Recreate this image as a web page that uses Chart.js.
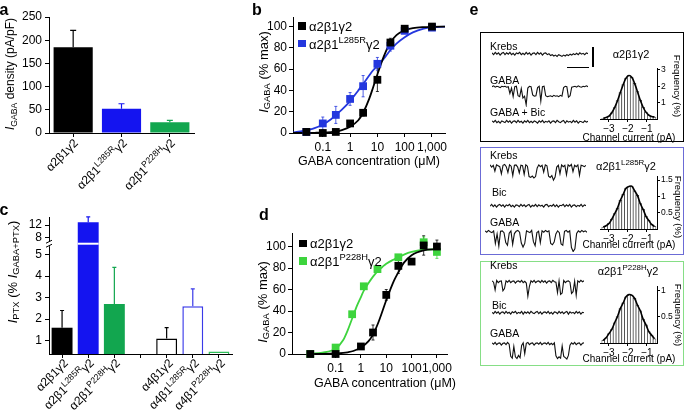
<!DOCTYPE html>
<html>
<head>
<meta charset="utf-8">
<script src="https://cdn.jsdelivr.net/npm/chart.js@4.4.1/dist/chart.umd.min.js"></script>
<style>
  body { margin: 0; background: #fff; }
  #fig { position: relative; width: 685px; height: 413px; overflow: hidden; font-family: 'Liberation Sans', Arial, sans-serif; color: #000; }
  #fig canvas { position: absolute; }
  .t { position: absolute; white-space: nowrap; line-height: 1; }
  .t sub, .t sup { font-size: 0.72em; line-height: 0; }
  .t sub { vertical-align: -0.3em; }
  .t sup { vertical-align: 0.55em; }
  .letter { font-weight: bold; }
  .box { position: absolute; box-sizing: border-box; }
  .bar { position: absolute; background: #000; }
</style>
</head>
<body>
<div id="fig"></div>
<script>
// ---- panel a: current density ----
const aLabels = ['α2β1γ2', 'α2β1^L285R^γ2', 'α2β1^P228H^γ2'];
const aDensity = [185, 52, 23];
const aSem = [36, 11, 4];
const aTicks = [0, 50, 100, 150, 200, 250];

// ---- panel c: PTX-sensitive current (broken axis) ----
const cLabels = ['α2β1γ2', 'α2β1^L285R^γ2', 'α2β1^P228H^γ2', '', 'α4β1γ2', 'α4β1^L285R^γ2', 'α4β1^P228H^γ2'];
const cPtx = [1.6, 12.9, 2.7, null, 1.1, 2.6, 0.5];
const cSem = [0.8, 1.7, 1.7, null, 0.5, 0.8, null];
const cTicks = [1, 2, 3, 4, 5, 8, 12];

// ---- panel b: concentration-response, L285R ----
const bConc = [0.025, 0.1, 0.3, 1, 3, 10, 30, 100, 1000];
const bWild = [1, 0, 1, 9, 19, 50, 85, 98, 100];
const bWildSem = [0, 0, 1, 2, 3, 11, 4, 2, 1];
const bL285R = [1, 9, 17, 32, 44, 65, 82, 96, 99];
const bL285RSem = [1, 6, 8, 6, 10, 6, 5, 2, 1];
const bFitConc = [0.008, 0.015, 0.03, 0.05, 0.1, 0.2, 0.3, 0.5, 1, 2, 3, 5, 7, 10, 15, 20, 30, 50, 100, 200, 500, 1000, 3000];
const bFitWild = [0, 0, 0.1, 0.2, 0.4, 0.9, 1.5, 2.8, 6, 12, 19, 32, 43, 55, 68, 76, 85, 92, 96.5, 98.5, 99.5, 99.8, 100];
const bFitL285R = [0.5, 1.5, 3, 4.5, 8, 13, 17, 22, 30, 40, 46, 54, 59, 63, 68, 72, 78, 84, 90, 94.5, 98, 99.2, 100];

// ---- panel d: concentration-response, P228H ----
const dConc = [0.01, 0.1, 1, 3, 10, 30, 100, 300, 1000];
const dWild = [0, 0, 7, 20, 55, 82, 86, 101, 100];
const dWildSem = [0, 0, 1, 7, 5, 7, 0, 9, 6];
const dP228HConc = [0.01, 0.1, 0.45, 1.3, 4.5, 30, 300, 1000];
const dP228H = [0, 6, 37, 63, 79, 90, 104, 95];
const dP228HSem = [0, 1, 1, 1, 2, 2, 5, 6];
const dFitWildConc = [0.01, 0.03, 0.1, 0.2, 0.3, 0.5, 1, 2, 3, 5, 10, 20, 30, 50, 100, 300, 1000];
const dFitWild = [0, 0.1, 0.5, 1, 1.6, 2.8, 6, 12, 18, 30, 50, 68, 76, 85, 92, 96.5, 97.5];
const dFitP228HConc = [0.01, 0.03, 0.1, 0.2, 0.3, 0.45, 0.7, 1, 1.3, 2, 3, 4.5, 7, 10, 20, 30, 50, 100, 300, 1000];
const dFitP228H = [0.3, 1.2, 5, 13, 22, 33, 45, 53, 59, 66, 72, 77, 81, 84, 88, 90, 92.5, 95, 97, 97.5];

const logTicks = [0.1, 1, 10, 100, 1000];
const pctTicks = [0, 20, 40, 60, 80, 100];

// ---- panel e: single-channel amplitude histograms (Frequency %) ----
const eHistX = [-3.3, -3.15, -3.0, -2.85, -2.7, -2.55, -2.4, -2.25, -2.1, -1.95, -1.8, -1.65, -1.5, -1.35, -1.2, -1.05, -0.9, -0.75, -0.6];
const eHistWild = [0.04, 0.09, 0.18, 0.38, 0.7, 1.12, 1.62, 2.1, 2.5, 2.66, 2.55, 2.18, 1.68, 1.15, 0.72, 0.42, 0.24, 0.15, 0.12];
const eHistL285R = [0.06, 0.1, 0.17, 0.3, 0.47, 0.64, 0.88, 1.06, 1.25, 1.3, 1.31, 1.17, 1.03, 0.78, 0.6, 0.39, 0.26, 0.14, 0.08];
const eHistP228H = [0.05, 0.1, 0.18, 0.26, 0.39, 0.51, 0.66, 0.77, 0.89, 0.93, 0.92, 0.86, 0.73, 0.62, 0.46, 0.35, 0.22, 0.15, 0.08];
const eCurrTicks = [-3, -2, -1];

// single-channel traces (pA, 0 = closed)
const e1Krebs = [0.2,-0.2,0.3,-0.1,0.2,-0.3,0.1,0.3,-0.2,0.2,-0.1,0.3,-0.2,0.1,-0.3,0.2,0,0.3,-0.2,0.1,-0.2,0.3,-0.1,0.2,-0.3,0.1,0.2,-0.2,0.3,-0.1,0.2,-0.3,0.1,0.2,-0.2,0,-0.4,-0.2,-0.5,-0.3,-0.6,-0.2,-0.4,-0.6,-0.3,-0.5,-0.2,-0.4,-0.1,-0.3,0,-0.2,0.1,-0.2,0.2,-0.1,0.1,-0.2,0.2,0];
const e1Gaba = [0,0.2,-0.1,0.1,0,-0.2,0.1,0,0.1,-0.1,0,-1.5,-0.3,-2.2,0,0.1,-2,-2.2,-0.4,-2.5,-2.1,-4,-0.3,0.1,0,-1.8,-2.1,-2,-0.2,0.1,-3.2,0,0.1,-2,-2.2,-2.1,-2,-2.2,-1.9,-2.1,-2,-2.2,-1.9,-2.1,-0.2,0.1,0,-2.3,-2,-0.1,0,0.1,-0.1,0.2,0,-0.1,0.1,0,0.2,0];
const e1GabaBic = [0.2,-0.1,0.3,-0.2,0.1,-0.3,0.2,0,-0.2,0.3,-0.1,0.2,-0.3,0.1,0.2,-0.2,0.3,-0.1,0.1,-0.3,0.2,-0.1,0.3,-0.2,0.1,-0.2,0.2,0,-0.3,0.2,-0.1,0.3,-0.2,0.1,-0.1,0.2,-0.3,0.1,0.2,-0.2,0.3,0,-0.2,0.1,0.3,-0.3,0.2,-0.1,0.1,-0.2,0.3,-0.1,0.2,-0.3,0.1,0,-0.2,0.2,-0.1,0.1];
const e2Krebs = [0.2,-0.3,0.1,-1.2,0.2,0,-0.2,-1.8,0.1,0.3,-0.2,-1.5,0.2,-0.1,-2.2,0.1,0.2,-0.3,-1.6,0.1,0,-1.9,0.2,-0.1,-2.4,-2.6,-2.3,-2.7,-2.4,-0.5,0.2,-0.2,0.1,-1.4,0.2,0,-2.3,-2.6,-2.2,-3.2,-2.5,-0.3,0.1,-1.8,0.2,-0.2,0.1,-2.0,0.2,-0.1,0.3,-1.3,0.1,-0.2,0.2,-2.1,0.1,0,-0.2,0.1];
const e2Bic = [-0.1,0.3,-0.2,0.2,-0.3,0.1,0.3,-0.1,0.2,-0.3,0.2,0,0.3,-0.2,0.1,-0.3,0.2,0.1,-0.2,0.3,-0.1,0.2,-0.2,0.1,0.3,-0.3,0.1,-0.1,0.3,-0.2,0.2,-0.1,0.1,-0.3,0.2,0.3,-0.2,0.1,-0.1,0.3,-0.2,0.2,-0.3,0.1,0,0.3,-0.2,0.2,-0.1,0.3,-0.3,0.1,0.2,-0.2,0.1,-0.1,0.3,-0.2,0.2,0];
const e2Gaba = [0.2,-0.1,0.3,0,-0.2,0.2,-2.6,-0.5,-3.2,0.1,0.2,-0.2,-2.4,-3.0,-0.3,0.2,-2.8,-0.4,0.1,0.3,-0.1,-2.5,-3.4,-2.6,0.2,0,-0.2,0.3,-2.2,-3.1,-0.2,0.1,-2.4,0.2,-0.1,0.3,0,0.2,-2.6,-2.9,-2.3,-0.5,0.2,-0.2,-2.7,-3.0,0.1,0.3,-0.1,0.2,-3.5,-4.4,-3.8,-0.4,0.2,-0.1,0.3,0,0.2,-0.1];
const e3Krebs = [0.2,-0.1,-1.8,0.3,-0.2,0.1,0.2,-2.0,-1.5,0.2,-0.1,0.3,-0.2,0.1,0.2,-0.3,0.1,0.2,-0.1,0.3,-0.2,0.1,-0.3,-3.2,-1.0,0.2,-0.1,0.3,-0.2,0.1,0.2,-0.2,0.3,-0.1,0.2,-0.3,0.1,0.2,-0.2,0.3,0,-0.1,-2.4,0.2,-2.8,-2.5,0.3,-0.2,0.1,0.2,-0.1,-2.6,-2.2,0.1,-3.0,0.2,-0.1,0.3,0,0.2];
const e3Bic = [0.1,-0.2,0.3,-0.1,0.2,-0.3,0.1,0.2,-0.2,0.3,-0.1,0.1,-0.3,0.2,0,0.3,-0.2,0.1,-0.1,0.3,-0.3,0.2,-0.1,0.2,-0.2,0.3,0,-0.2,0.1,0.3,-0.2,0.2,-0.3,0.1,0.2,-0.1,0.3,-0.2,0.1,-0.3,0.2,0.1,-0.2,0.3,-0.1,0.2,-0.2,0.1,0.3,-0.3,0.2,-0.1,0.1,-0.2,0.3,-0.1,0.2,-0.3,0.1,0];
const e3Gaba = [0.2,-0.1,0.3,-0.2,0.1,0.2,-0.3,0.1,0.2,-0.2,0.3,-0.1,-2.8,-3.2,-0.6,-2.9,-3.3,-2.6,-3.1,-0.4,0.2,-2.2,0.1,0.3,-0.2,0.1,0.2,-0.3,0.1,0.2,-0.1,0.3,-0.2,0.1,0.2,-0.1,0.3,-0.2,0.1,-0.2,0.2,-2.7,-3.3,-2.9,-3.2,-0.5,-2.8,-3.1,-3.4,-2.6,-0.3,0.2,-0.1,0.3,-0.2,0.1,0.2,-0.3,0.1,0.2];

const BLACK = '#000';
const BLUE = '#1414f0';
const GREEN = '#12a64f';
const BLUE_B = '#2437de';
const GREEN_D = '#3dd43d';
const aColors = [BLACK, BLUE, GREEN];
const cFill = [BLACK, BLUE, GREEN, null, '#fff', '#fff', '#fff'];
const cEdge = [BLACK, BLUE, GREEN, null, BLACK, '#3a3ae8', '#2fbf5a'];

Chart.defaults.font.family = "'Liberation Sans', Arial, sans-serif";
Chart.defaults.font.size = 12;
Chart.defaults.color = '#000';
Chart.defaults.animation = false;
Chart.defaults.responsive = false;
Chart.defaults.devicePixelRatio = 1;
Chart.defaults.events = [];
Chart.defaults.plugins.legend.display = false;
Chart.defaults.plugins.tooltip.enabled = false;

const fig = document.getElementById('fig');

function canvas(x, y, w, h) {
  const c = document.createElement('canvas');
  c.width = w; c.height = h;
  c.style.left = x + 'px'; c.style.top = y + 'px';
  c.style.width = w + 'px'; c.style.height = h + 'px';
  fig.appendChild(c);
  return c;
}

function rich(s) { return s.replace(/\^(.*?)\^/g, '<sup>$1</sup>'); }

// anchor: 'c' centre, 'l' left-middle, 'r' right-middle
function text(html, x, y, opt) {
  opt = opt || {};
  const d = document.createElement('div');
  d.className = 't' + (opt.cls ? ' ' + opt.cls : '');
  d.innerHTML = html;
  d.style.left = x + 'px';
  d.style.top = y + 'px';
  d.style.fontSize = (opt.size || 12) + 'px';
  const a = opt.anchor || 'c';
  const tx = a === 'l' ? '0' : a === 'r' ? '-100%' : '-50%';
  d.style.transformOrigin = (a === 'l' ? '0' : a === 'r' ? '100%' : '50%') + ' 50%';
  d.style.transform = 'translate(' + tx + ',-50%) rotate(' + (opt.rot || 0) + 'deg)';
  fig.appendChild(d);
  return d;
}

function block(cls, x, y, w, h, css) {
  const d = document.createElement('div');
  d.className = cls;
  d.style.left = x + 'px'; d.style.top = y + 'px';
  d.style.width = w + 'px'; d.style.height = h + 'px';
  Object.assign(d.style, css || {});
  fig.appendChild(d);
  return d;
}

function axis(opts) {
  const o = {
    border: { display: true, color: '#000', width: 1 },
    grid: { display: true, drawOnChartArea: false, drawTicks: true, tickLength: 4, color: '#000', offset: false },
    ticks: { color: '#000', padding: 3, autoSkip: false, maxRotation: 0, minRotation: 0, font: { size: 12 } }
  };
  for (const k in opts) {
    if (k === 'ticks' || k === 'grid') Object.assign(o[k], opts[k]);
    else o[k] = opts[k];
  }
  return o;
}
const setTicks = list => s => { s.ticks = list.map(v => ({ value: v })); };
const setW = n => s => { s.width = n; };
const setH = n => s => { s.height = n; };

// error bars: 'up' after bars, 'both' behind points
function drawErr(chart, mode) {
  const ctx = chart.ctx, ys = chart.scales.y;
  chart.data.datasets.forEach((ds, i) => {
    if (!ds.errTop || ds.errMode !== mode) return;
    const meta = chart.getDatasetMeta(i);
    ctx.save();
    ctx.lineWidth = ds.errWidth || 1.2;
    meta.data.forEach((el, j) => {
      const top = ds.errTop[j];
      if (top == null || isNaN(top)) return;
      const col = Array.isArray(ds.errColor) ? ds.errColor[j] : ds.errColor;
      const yt = ys.getPixelForValue(top);
      const yb = mode === 'up' ? el.y : ys.getPixelForValue(ds.errBot[j]);
      const cap = ds.errCap || 2;
      ctx.strokeStyle = col;
      ctx.beginPath();
      ctx.moveTo(el.x, yb); ctx.lineTo(el.x, yt);
      ctx.moveTo(el.x - cap, yt); ctx.lineTo(el.x + cap, yt);
      if (mode === 'both') { ctx.moveTo(el.x - cap, yb); ctx.lineTo(el.x + cap, yb); }
      ctx.stroke();
    });
    ctx.restore();
  });
}
const errBars = {
  id: 'errBars',
  beforeDatasetsDraw(chart) { drawErr(chart, 'both'); },
  afterDatasetsDraw(chart) { drawErr(chart, 'up'); }
};

// ---------- panel a ----------
const aChart = new Chart(canvas(0, 0, 230, 200), {
  type: 'bar',
  data: {
    labels: aLabels,
    datasets: [{
      data: aDensity, backgroundColor: aColors, barPercentage: 0.81, categoryPercentage: 1,
      errTop: aDensity.map((v, i) => v + aSem[i]), errColor: aColors, errMode: 'up', errCap: 3
    }]
  },
  options: {
    layout: { padding: { top: 17, right: 36 } },
    scales: {
      x: axis({ ticks: { callback: () => '' }, afterFit: setH(67) }),
      y: axis({ min: 0, max: 250, afterBuildTicks: setTicks(aTicks), afterFit: setW(49) })
    }
  },
  plugins: [errBars]
});
aLabels.forEach((l, i) => text(rich(l), aChart.scales.x.getPixelForValue(i) + 3, aChart.chartArea.bottom + 8, { anchor: 'r', rot: -45, size: 12 }));
text('<i>I</i><sub>GABA</sub> density (pA/pF)', 10, 74, { rot: -90, size: 12 });

// ---------- panel c (broken y axis) ----------
function cAxis(v) { return v < 6 ? v : 5.77 + (v - 8) * 0.1475; }
const cBreakAt = 5.5;
const cBreak = {
  id: 'cBreak',
  afterDraw(chart) {
    const ctx = chart.ctx, y = chart.scales.y.getPixelForValue(cBreakAt), left = chart.chartArea.left;
    const meta = chart.getDatasetMeta(0);
    ctx.save();
    ctx.strokeStyle = '#fff'; ctx.lineWidth = 2;
    cPtx.forEach((v, i) => {
      if (v == null || v < 6) return;
      const el = meta.data[i];
      ctx.beginPath(); ctx.moveTo(el.x - el.width / 2, y); ctx.lineTo(el.x + el.width / 2, y); ctx.stroke();
    });
    ctx.fillStyle = '#fff'; ctx.fillRect(left - 2, y - 2.5, 4, 5);
    ctx.strokeStyle = '#000'; ctx.lineWidth = 1;
    ctx.beginPath();
    ctx.moveTo(left - 3, y - 0.5); ctx.lineTo(left + 3, y - 3.5);
    ctx.moveTo(left - 3, y + 3.5); ctx.lineTo(left + 3, y + 0.5);
    ctx.stroke();
    ctx.restore();
  }
};
const cChart = new Chart(canvas(0, 200, 240, 213), {
  type: 'bar',
  data: {
    labels: cLabels,
    datasets: [{
      data: cPtx.map(v => v == null ? null : cAxis(v)),
      backgroundColor: cFill, borderColor: cEdge,
      borderWidth: cFill.map(f => f === '#fff' ? 1.5 : 0),
      barPercentage: 0.8, categoryPercentage: 1,
      errTop: cPtx.map((v, i) => (v == null || cSem[i] == null) ? null : cAxis(v + cSem[i])),
      errColor: cEdge, errMode: 'up', errCap: 2
    }]
  },
  options: {
    layout: { padding: { top: 17, right: 8 } },
    scales: {
      x: axis({ ticks: { callback: () => '' }, afterFit: setH(59) }),
      y: axis({
        min: 0.38, max: 6.74,
        afterBuildTicks: s => { s.ticks = cTicks.map(v => ({ value: cAxis(v) })); },
        ticks: { callback: (v, i) => cTicks[i] },
        afterFit: setW(49)
      })
    }
  },
  plugins: [errBars, cBreak]
});
cLabels.forEach((l, i) => {
  if (!l) return;
  text(rich(l), cChart.scales.x.getPixelForValue(i) + 4, 200 + cChart.chartArea.bottom + 7, { anchor: 'r', rot: -45, size: 12 });
});
text('<i>I</i><sub>PTX</sub> (% <i>I</i><sub>GABA+PTX</sub>)', 12, 272, { rot: -90, size: 13 });

// ---------- panels b and d ----------
function pts(xs, ys, sem, col) {
  return {
    data: xs.map((x, i) => ({ x, y: ys[i] })),
    pointStyle: 'rect', pointRadius: 5.5, backgroundColor: col, borderColor: col, borderWidth: 0, clip: false,
    errTop: ys.map((v, i) => v + sem[i]), errBot: ys.map((v, i) => v - sem[i]),
    errColor: col, errMode: 'both', errWidth: 0.8, errCap: 1.5
  };
}
function fit(xs, ys, col) {
  return {
    data: xs.map((x, i) => ({ x, y: ys[i] })),
    showLine: true, pointRadius: 0, borderColor: col, borderWidth: 1.8,
    cubicInterpolationMode: 'monotone', fill: false
  };
}
function doseChart(x, y, h, pad, yW, xMin, xMax, yMax, xH, datasets) {
  return new Chart(canvas(x, y, 230, h), {
    type: 'scatter',
    data: { datasets },
    options: {
      layout: { padding: pad },
      scales: {
        x: axis({
          type: 'logarithmic', min: xMin, max: xMax,
          afterBuildTicks: setTicks(logTicks),
          ticks: { callback: v => Number(v).toLocaleString('en-US') },
          afterFit: setH(xH)
        }),
        y: axis({ min: 0, max: yMax, afterBuildTicks: setTicks(pctTicks), ticks: { padding: 2 }, afterFit: setW(yW) })
      }
    },
    plugins: [errBars]
  });
}
doseChart(230, 0, 200, { top: 17, right: 15 }, 63, 0.0081, 3000, 109, 67, [
  pts(bConc, bWild, bWildSem, BLACK),
  pts(bConc, bL285R, bL285RSem, BLUE_B),
  fit(bFitConc, bFitWild, BLACK),
  fit(bFitConc, bFitL285R, BLUE_B)
]);
doseChart(230, 200, 213, { top: 33, right: 13 }, 62, 0.0019, 2500, 112.6, 59, [
  pts(dConc, dWild, dWildSem, BLACK),
  pts(dP228HConc, dP228H, dP228HSem, GREEN_D),
  fit(dFitWildConc, dFitWild, BLACK),
  fit(dFitP228HConc, dFitP228H, GREEN_D)
]);
text('<i>I</i><sub>GABA</sub> (% max)', 263, 72, { rot: -90, size: 13 });
text('GABA concentration (μM)', 369, 161, { size: 12.5 });
text('<i>I</i><sub>GABA</sub> (% max)', 262, 302, { rot: -90, size: 13 });
text('GABA concentration (μM)', 385, 383, { size: 12.5 });
// legends
block('bar', 298, 22, 7.5, 7.5, { background: BLACK });
text('α2β1γ2', 309, 26, { anchor: 'l', size: 13 });
block('bar', 298, 39.5, 7.5, 7.5, { background: BLUE_B });
text(rich('α2β1^L285R^γ2'), 309, 44, { anchor: 'l', size: 13 });
block('bar', 299, 239.5, 7.5, 7.5, { background: BLACK });
text('α2β1γ2', 310, 243, { anchor: 'l', size: 13 });
block('bar', 299, 257, 7.5, 7.5, { background: GREEN_D });
text(rich('α2β1^P228H^γ2'), 310, 261, { anchor: 'l', size: 13 });

// ---------- panel e ----------
block('box', 480, 32, 204, 110, { border: '1px solid #000' });
block('box', 480, 147, 204, 108, { border: '1.5px solid #6b6bd6' });
block('box', 480, 261, 204, 105, { border: '1.5px solid #86de86' });

function trace(x, baseY, w, vals) {
  new Chart(canvas(x, Math.round(baseY - 7), w, 27), {
    type: 'line',
    data: { datasets: [{ data: vals.map((v, i) => ({ x: i, y: v })), borderColor: '#111', borderWidth: 1.1, pointRadius: 0, tension: 0 }] },
    options: {
      layout: { padding: 0 },
      scales: {
        x: { type: 'linear', display: false, min: 0, max: vals.length - 1 },
        y: { display: false, min: -4.5, max: 1.5 }
      }
    }
  });
}
function hist(y, h, top, yMax, yTicks, vals) {
  const pairs = eHistX.map((v, i) => ({ x: v, y: vals[i] }));
  return new Chart(canvas(590, y, 92, h), {
    type: 'bar',
    data: {
      datasets: [
        { type: 'line', data: pairs, borderColor: '#000', borderWidth: 1.6, pointRadius: 0, tension: 0.4, order: 0 },
        { data: pairs, backgroundColor: '#fff', borderColor: '#333', borderWidth: 0.7, barPercentage: 1, categoryPercentage: 1, order: 1 }
      ]
    },
    options: {
      layout: { padding: { left: 10, top } },
      scales: {
        x: axis({
          type: 'linear', offset: false, min: -3.47, max: -0.47,
          afterBuildTicks: setTicks(eCurrTicks),
          ticks: { font: { size: 10 }, padding: 1, callback: v => (v < 0 ? '\u2212' : '') + Math.abs(v) },
          grid: { tickLength: 3 }, afterFit: setH(23)
        }),
        y: axis({
          position: 'right', min: 0, max: yMax,
          afterBuildTicks: setTicks(yTicks),
          ticks: { font: { size: 8.5 }, padding: 1, callback: v => String(v) },
          grid: { tickLength: 3 }, afterFit: setW(25)
        })
      }
    }
  });
}

// box 1
text('Krebs', 490, 46, { anchor: 'l', size: 10.5 });
trace(492, 54, 96, e1Krebs);
text('GABA', 490, 80, { anchor: 'l', size: 10.5 });
trace(492, 87, 96, e1Gaba);
text('GABA + Bic', 490, 112, { anchor: 'l', size: 10.5 });
trace(492, 122, 96, e1GabaBic);
block('bar', 592, 47, 1.5, 20);
block('bar', 567, 66.5, 22, 1.5);
text('α2β1γ2', 631, 54, { size: 11 });
hist(60, 82, 8, 3.12, [1, 2, 3], eHistWild);
text('Frequency (%)', 677, 86, { rot: 90, size: 9.5 });
text('Channel current (pA)', 629, 137.5, { size: 10 });

// box 2
text('Krebs', 490, 155, { anchor: 'l', size: 10.5 });
trace(490, 166, 96, e2Krebs);
text('Bic', 492, 192, { anchor: 'l', size: 10.5 });
trace(490, 206, 96, e2Bic);
text('GABA', 490, 222, { anchor: 'l', size: 10.5 });
trace(485, 232, 102, e2Gaba);
text(rich('α2β1^L285R^γ2'), 626, 166, { size: 11 });
hist(170, 82, 6, 1.62, [0.5, 1, 1.5], eHistL285R);
text('Frequency (%)', 678, 207, { rot: 90, size: 9.5 });
text('Channel current (pA)', 629, 245, { size: 10 });

// box 3
text('Krebs', 490, 265, { anchor: 'l', size: 10.5 });
trace(492, 282, 92, e3Krebs);
text('Bic', 492, 305, { anchor: 'l', size: 10.5 });
trace(492, 313, 92, e3Bic);
text('GABA', 490, 333, { anchor: 'l', size: 10.5 });
trace(492, 344, 92, e3Gaba);
text(rich('α2β1^P228H^γ2'), 628, 271, { size: 11 });
hist(280, 86, 5, 1.094, [0.5, 1], eHistP228H);
text('Frequency (%)', 678, 315, { rot: 90, size: 9.5 });
text('Channel current (pA)', 629, 359, { size: 10 });

// panel letters
text('a', 4, 10, { cls: 'letter', size: 16 });
text('b', 257, 10, { cls: 'letter', size: 16 });
text('c', 4, 210, { cls: 'letter', size: 16 });
text('d', 264, 215, { cls: 'letter', size: 16 });
text('e', 474, 10, { cls: 'letter', size: 16 });
</script>
</body>
</html>
